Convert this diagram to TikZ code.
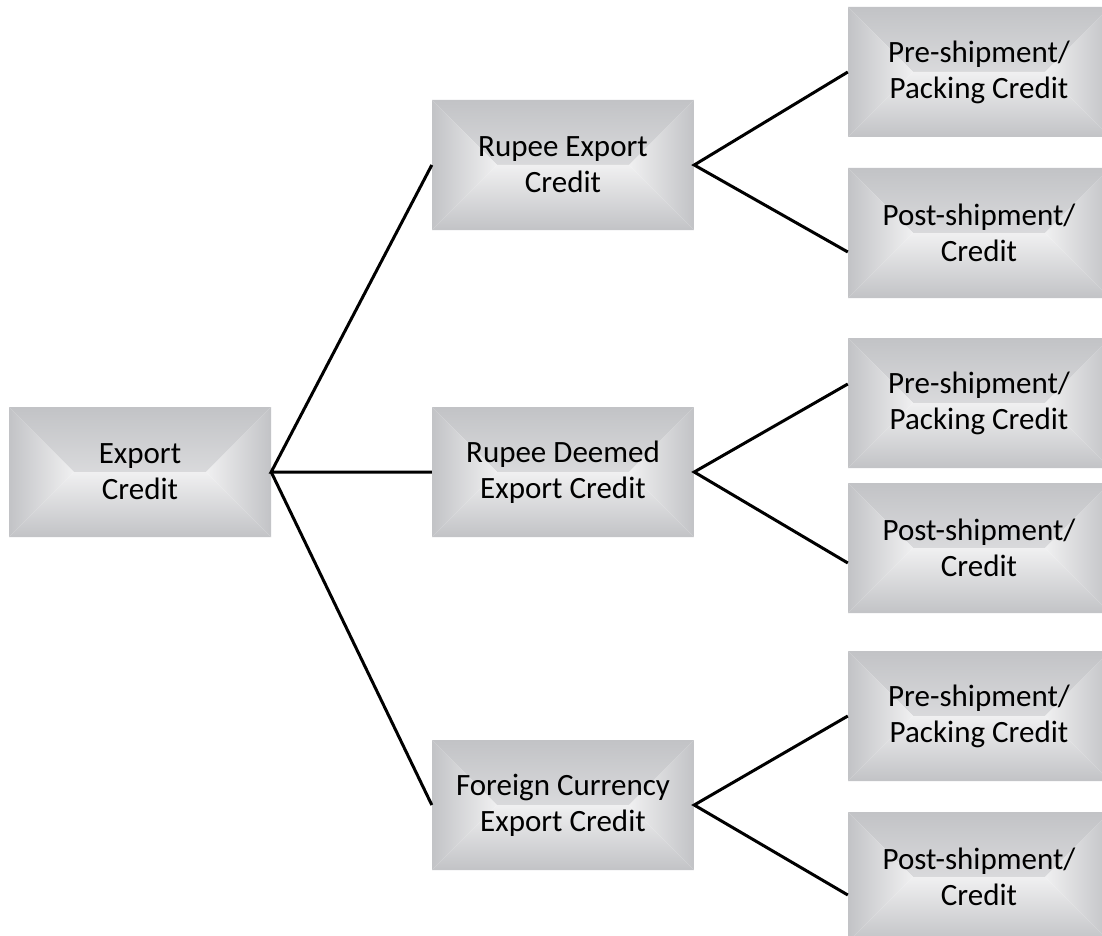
\documentclass[tikz,border=0pt]{standalone}
\usepackage{fontspec}
\setmainfont{Carlito}
\usetikzlibrary{calc}

\definecolor{boxedge}{RGB}{194,195,198}
\definecolor{boxmid}{RGB}{240,240,241}

\tikzset{
  credbox/.style={minimum width=262pt, minimum height=130pt, inner sep=0pt,
    align=center, font=\fontsize{31pt}{36pt}\selectfont,
    path picture={
      % four bevelled faces, dark at the rim, light at the ridge
      \shade[top color=boxedge, bottom color=boxmid]
        (path picture bounding box.north west) -- (path picture bounding box.north east)
        -- ($(path picture bounding box.east)+(-65pt,0pt)$) -- ($(path picture bounding box.west)+(65pt,0pt)$) -- cycle;
      \shade[top color=boxmid, bottom color=boxedge]
        (path picture bounding box.south west) -- (path picture bounding box.south east)
        -- ($(path picture bounding box.east)+(-65pt,0pt)$) -- ($(path picture bounding box.west)+(65pt,0pt)$) -- cycle;
      \shade[left color=boxedge, right color=boxmid]
        (path picture bounding box.north west) -- (path picture bounding box.south west)
        -- ($(path picture bounding box.west)+(65pt,0pt)$) -- cycle;
      \shade[left color=boxmid, right color=boxedge]
        (path picture bounding box.north east) -- (path picture bounding box.south east)
        -- ($(path picture bounding box.east)+(-65pt,0pt)$) -- cycle;
    }},
  conn/.style={line width=3pt},
}

\begin{document}
\begin{tikzpicture}[x=1pt, y=-1pt]
\useasboundingbox (0,0) rectangle (1102,936);

% root
\node[credbox] (ec) at (140,472) {Export\\Credit};

% middle column
\node[credbox] (rec) at (563,165) {Rupee Export\\Credit};
\node[credbox] (rdc) at (563,472) {Rupee Deemed\\Export Credit};
\node[credbox] (fcc) at (563,805) {Foreign Currency\\Export Credit};

% right column
\node[credbox] (pre1) at (979,72) {Pre-shipment/\\Packing Credit};
\node[credbox] (post1) at (979,233) {Post-shipment/\\Credit};
\node[credbox] (pre2) at (979,403) {Pre-shipment/\\Packing Credit};
\node[credbox] (post2) at (979,548) {Post-shipment/\\Credit};
\node[credbox] (pre3) at (979,716) {Pre-shipment/\\Packing Credit};
\node[credbox] (post3) at (979,877) {Post-shipment/\\Credit};

% connectors
\draw[conn] (rec.west) -- (ec.east) -- (rdc.west);
\draw[conn] (ec.east) -- (fcc.west);

\draw[conn] (pre1.west) -- (rec.east) -- ([yshift=-19pt]post1.west);
\draw[conn] ([yshift=19pt]pre2.west) -- (rdc.east) -- ([yshift=-15pt]post2.west);
\draw[conn] (pre3.west) -- (fcc.east) -- ([yshift=-18pt]post3.west);
\end{tikzpicture}
\end{document}
